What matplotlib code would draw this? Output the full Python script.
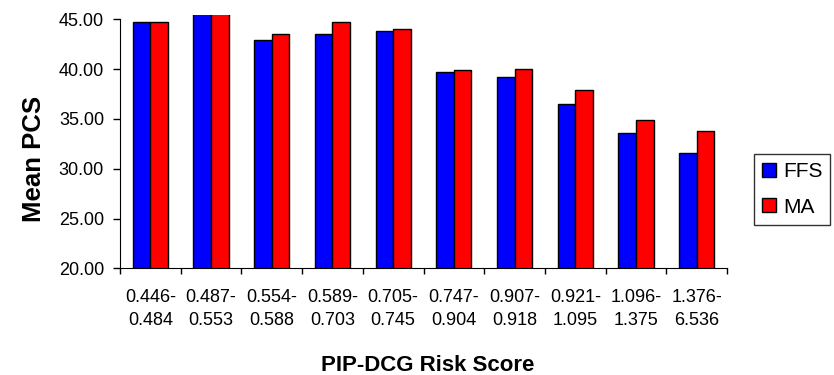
import matplotlib
matplotlib.use("Agg")
import matplotlib.pyplot as plt
import numpy as np

plt.rcParams['font.family'] = ['Liberation Sans', 'DejaVu Sans']

categories = ["0.446-\n0.484", "0.487-\n0.553", "0.554-\n0.588", "0.589-\n0.703", "0.705-\n0.745",
              "0.747-\n0.904", "0.907-\n0.918", "0.921-\n1.095", "1.096-\n1.375", "1.376-\n6.536"]
ffs = [44.70, 45.60, 42.92, 43.52, 43.82, 39.73, 39.26, 36.55, 33.56, 31.58]
ma = [44.70, 45.60, 43.52, 44.70, 44.05, 39.87, 40.00, 37.92, 34.90, 33.83]
yticks = [20, 25, 30, 35, 40, 45]

fig = plt.figure(figsize=(8.34, 3.75), dpi=100)
ax = fig.add_axes([0.1439, 0.2845, 0.8717 - 0.1439, 0.959 - 0.2845])

x = np.arange(len(categories))
w = 0.29
ax.bar(x - w/2, ffs, w, color='#0000FF', edgecolor='black', linewidth=1, label='FFS')
ax.bar(x + w/2, ma, w, color='#FF0000', edgecolor='black', linewidth=1, label='MA')

ax.set_xlim(-0.5, len(categories) - 0.5)
ax.set_ylim(20, 45.4)
ax.set_yticks(yticks)
ax.set_yticklabels([f"{v:.2f}" for v in yticks], fontsize=13)
ax.set_xticks(x)
ax.set_xticklabels(categories, fontsize=13, linespacing=1.45)
ax.set_xticks(np.arange(len(categories) + 1) - 0.5, minor=True)
ax.tick_params(axis='x', which='major', length=0, pad=15)
ax.tick_params(axis='x', which='minor', length=4.5, width=1, direction='out')
ax.tick_params(axis='y', length=5, width=1, direction='out', pad=6.5)

ax.spines['top'].set_visible(False)
ax.spines['right'].set_visible(False)
ax.spines['left'].set_bounds(20, 45)

ax.set_ylabel('Mean PCS', fontsize=18.5, fontweight='bold', va='center')
ax.yaxis.set_label_coords(-0.142, 0.434)
ax.set_xlabel('PIP-DCG Risk Score', fontsize=16, fontweight='bold', va='center')
ax.xaxis.set_label_coords(0.507, -0.385)

leg = ax.legend(loc='upper left', bbox_to_anchor=(754/834, 1 - 154/375), bbox_transform=fig.transFigure,
                frameon=True, fancybox=False, edgecolor='black', fontsize=15,
                handlelength=0.67, handleheight=0.67, handletextpad=0.34,
                borderpad=0.38, labelspacing=0.8, borderaxespad=0)
leg.get_frame().set_linewidth(1)

fig.savefig('out.png', dpi=100)
